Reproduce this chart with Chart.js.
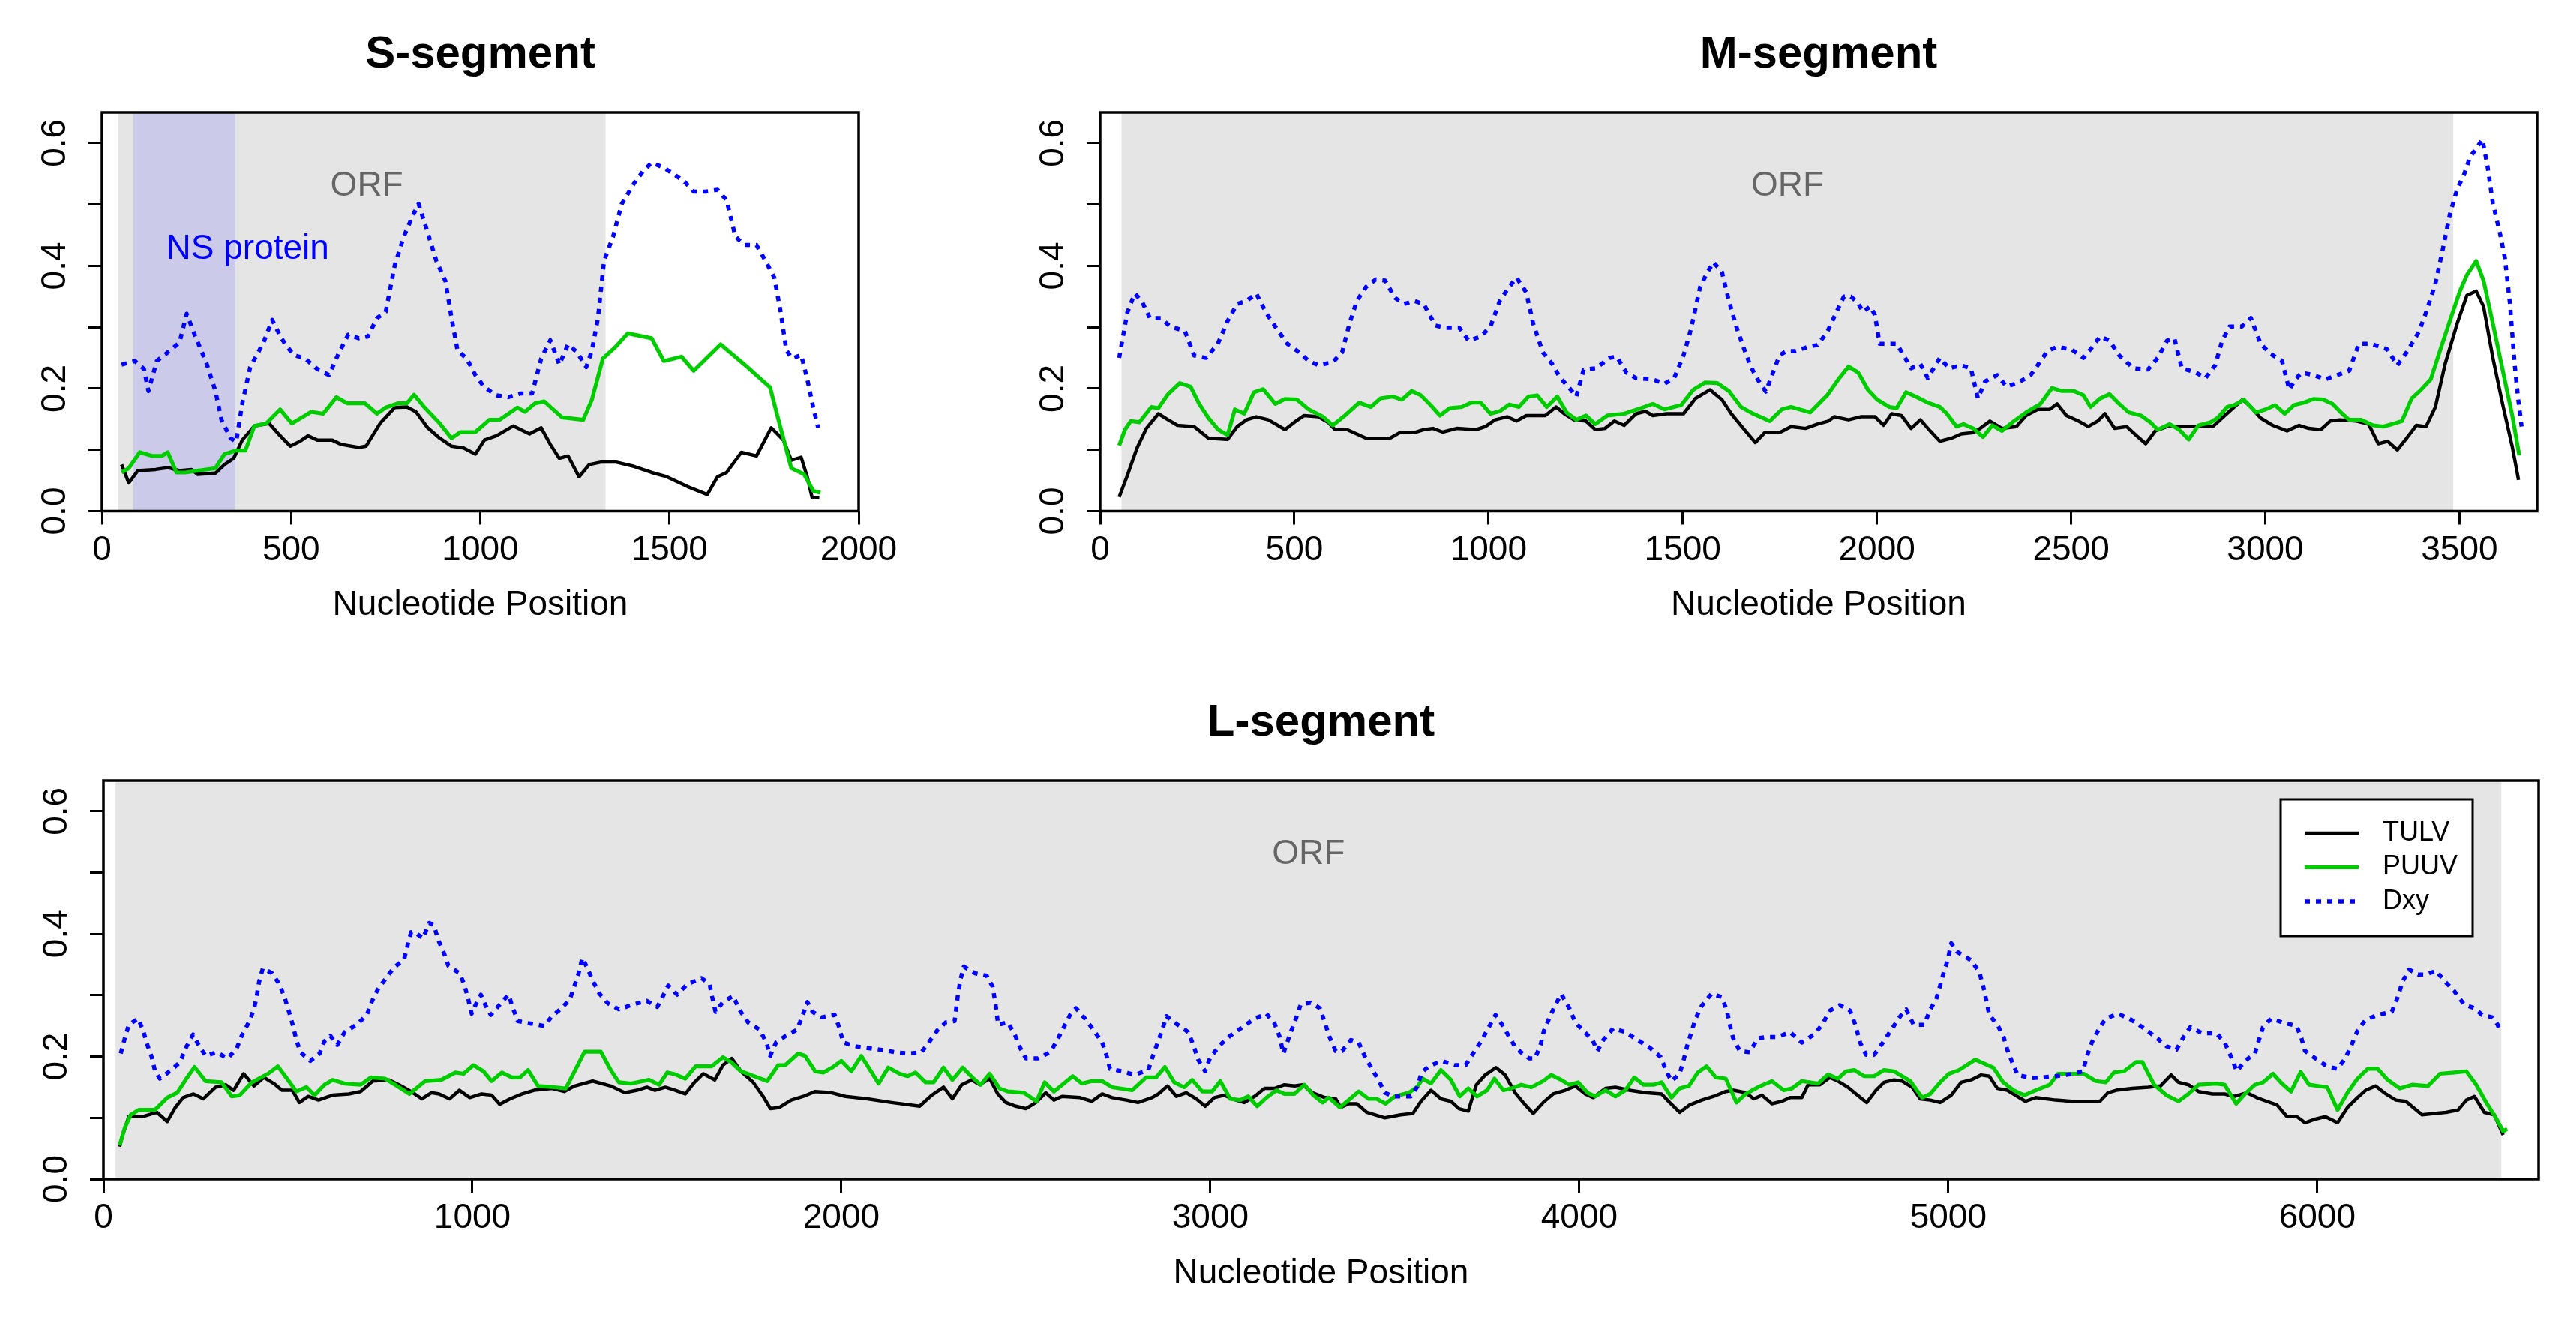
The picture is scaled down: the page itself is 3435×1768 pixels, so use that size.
<!DOCTYPE html>
<html>
<head>
<meta charset="utf-8">
<script src="https://cdn.jsdelivr.net/npm/chart.js@4.4.1/dist/chart.umd.min.js"></script>
<style>
html,body{margin:0;padding:0;background:#fff;}
body{width:3435px;height:1768px;position:relative;overflow:hidden;}
canvas{position:absolute;}
</style>
</head>
<body>
<canvas id="cS" width="1300" height="880" style="left:0px;top:0px;width:1300px;height:880px;"></canvas>
<canvas id="cM" width="2115" height="880" style="left:1320px;top:0px;width:2115px;height:880px;"></canvas>
<canvas id="cL" width="3435" height="888" style="left:0px;top:880px;width:3435px;height:888px;"></canvas>
<script>
// ---------------- DATA ----------------
const SERIES_NAMES = ['TULV', 'PUUV', 'Dxy'];
const Y_TICKS = [0, 0.1, 0.2, 0.3, 0.4, 0.5, 0.6];
const Y_LABELS = [0, 0.2, 0.4, 0.6];
const S_X_TICKS = [0, 500, 1000, 1500, 2000];
const M_X_TICKS = [0, 500, 1000, 1500, 2000, 2500, 3000, 3500];
const L_X_TICKS = [0, 1000, 2000, 3000, 4000, 5000, 6000];

const S_TULV = [[52,0.076],[71,0.046],[95,0.066],[142,0.068],[174,0.071],[205,0.066],[237,0.068],[253,0.060],[300,0.062],[324,0.076],[348,0.086],[371,0.116],[403,0.139],[442,0.143],[471,0.123],[498,0.106],[521,0.113],[545,0.123],[569,0.116],[608,0.116],[632,0.109],[679,0.104],[698,0.106],[735,0.143],[774,0.169],[806,0.170],[830,0.162],[861,0.136],[893,0.119],[924,0.106],[956,0.103],[987,0.093],[1011,0.116],[1043,0.123],[1087,0.139],[1130,0.126],[1161,0.136],[1185,0.109],[1209,0.086],[1232,0.090],[1261,0.056],[1288,0.076],[1319,0.080],[1359,0.080],[1406,0.073],[1453,0.063],[1493,0.056],[1548,0.040],[1600,0.027],[1627,0.056],[1651,0.063],[1690,0.096],[1730,0.090],[1769,0.136],[1801,0.116],[1822,0.083],[1848,0.088],[1864,0.056],[1877,0.022],[1896,0.022]];
const S_PUUV = [[52,0.063],[71,0.070],[100,0.096],[134,0.090],[158,0.090],[174,0.096],[197,0.063],[221,0.063],[253,0.066],[300,0.070],[324,0.093],[355,0.099],[379,0.099],[403,0.139],[434,0.143],[471,0.166],[502,0.143],[529,0.153],[553,0.162],[585,0.159],[620,0.186],[648,0.176],[695,0.176],[727,0.159],[750,0.169],[782,0.176],[806,0.176],[825,0.190],[853,0.169],[893,0.143],[924,0.119],[948,0.129],[987,0.129],[1024,0.149],[1051,0.149],[1098,0.169],[1118,0.162],[1145,0.176],[1169,0.179],[1216,0.153],[1272,0.149],[1295,0.182],[1324,0.249],[1359,0.269],[1390,0.290],[1453,0.282],[1485,0.245],[1532,0.252],[1564,0.229],[1635,0.272],[1706,0.235],[1766,0.202],[1785,0.156],[1822,0.070],[1856,0.060],[1880,0.033],[1899,0.030]];
const S_DXY = [[52,0.239],[87,0.245],[111,0.232],[123,0.196],[145,0.245],[174,0.259],[205,0.275],[224,0.322],[245,0.288],[276,0.242],[300,0.196],[316,0.149],[340,0.119],[355,0.113],[371,0.176],[392,0.235],[427,0.275],[450,0.312],[474,0.282],[506,0.255],[537,0.249],[569,0.232],[600,0.222],[624,0.255],[651,0.288],[679,0.282],[703,0.285],[727,0.315],[750,0.325],[774,0.401],[798,0.448],[821,0.481],[837,0.501],[861,0.454],[884,0.408],[908,0.375],[924,0.315],[940,0.262],[964,0.249],[987,0.222],[1011,0.202],[1043,0.189],[1074,0.186],[1106,0.192],[1137,0.192],[1161,0.249],[1185,0.279],[1209,0.239],[1232,0.272],[1256,0.259],[1280,0.235],[1295,0.262],[1311,0.315],[1327,0.408],[1351,0.448],[1374,0.501],[1406,0.534],[1430,0.554],[1453,0.568],[1485,0.560],[1517,0.547],[1540,0.537],[1564,0.521],[1596,0.521],[1627,0.524],[1651,0.507],[1674,0.448],[1698,0.434],[1730,0.434],[1754,0.408],[1777,0.381],[1793,0.328],[1809,0.262],[1825,0.249],[1848,0.255],[1864,0.216],[1880,0.169],[1893,0.136]];

const M_TULV = [[49,0.023],[70,0.058],[95,0.103],[119,0.135],[150,0.159],[175,0.149],[199,0.140],[242,0.138],[279,0.119],[328,0.117],[353,0.138],[377,0.149],[402,0.154],[433,0.149],[476,0.133],[500,0.145],[525,0.156],[562,0.154],[587,0.145],[605,0.133],[636,0.133],[685,0.119],[746,0.119],[771,0.128],[808,0.128],[833,0.133],[857,0.135],[882,0.129],[918,0.135],[968,0.133],[992,0.138],[1017,0.149],[1048,0.154],[1072,0.147],[1097,0.156],[1146,0.156],[1174,0.170],[1195,0.159],[1220,0.149],[1251,0.147],[1275,0.133],[1300,0.135],[1324,0.147],[1349,0.140],[1380,0.159],[1404,0.163],[1423,0.156],[1459,0.159],[1502,0.159],[1533,0.184],[1570,0.198],[1601,0.182],[1625,0.159],[1656,0.135],[1687,0.112],[1711,0.128],[1749,0.128],[1779,0.138],[1816,0.135],[1847,0.142],[1875,0.147],[1890,0.154],[1927,0.149],[1958,0.154],[1995,0.154],[2017,0.140],[2038,0.159],[2063,0.156],[2088,0.135],[2112,0.149],[2137,0.131],[2162,0.114],[2192,0.119],[2217,0.126],[2248,0.128],[2266,0.135],[2291,0.147],[2322,0.135],[2359,0.138],[2384,0.156],[2414,0.166],[2445,0.166],[2464,0.175],[2488,0.156],[2519,0.147],[2544,0.138],[2569,0.147],[2587,0.159],[2612,0.135],[2643,0.138],[2667,0.124],[2692,0.110],[2717,0.131],[2747,0.138],[2797,0.138],[2865,0.138],[2896,0.156],[2920,0.170],[2942,0.182],[2963,0.170],[2988,0.152],[3019,0.140],[3056,0.131],[3087,0.140],[3112,0.135],[3143,0.133],[3167,0.147],[3192,0.149],[3235,0.147],[3266,0.142],[3291,0.110],[3315,0.114],[3340,0.100],[3364,0.119],[3389,0.140],[3414,0.138],[3438,0.170],[3463,0.240],[3494,0.306],[3519,0.352],[3543,0.359],[3562,0.334],[3586,0.250],[3611,0.175],[3636,0.105],[3652,0.051]];
const M_PUUV = [[49,0.107],[64,0.133],[79,0.147],[101,0.145],[132,0.170],[150,0.168],[175,0.191],[205,0.209],[233,0.203],[255,0.175],[279,0.152],[304,0.133],[328,0.124],[347,0.166],[371,0.159],[396,0.194],[420,0.199],[451,0.175],[476,0.183],[507,0.182],[537,0.166],[574,0.154],[599,0.140],[630,0.156],[667,0.177],[697,0.170],[722,0.184],[753,0.187],[777,0.182],[802,0.196],[826,0.189],[851,0.173],[875,0.156],[900,0.168],[931,0.170],[955,0.177],[980,0.177],[1005,0.159],[1029,0.163],[1054,0.174],[1078,0.170],[1103,0.187],[1125,0.189],[1150,0.170],[1177,0.187],[1201,0.161],[1226,0.149],[1251,0.156],[1275,0.142],[1306,0.156],[1349,0.159],[1392,0.168],[1423,0.175],[1453,0.166],[1496,0.173],[1527,0.198],[1558,0.210],[1589,0.209],[1619,0.196],[1650,0.170],[1681,0.159],[1724,0.147],[1755,0.166],[1779,0.170],[1828,0.161],[1872,0.189],[1903,0.217],[1927,0.236],[1952,0.226],[1977,0.198],[2001,0.182],[2032,0.170],[2051,0.168],[2075,0.194],[2100,0.187],[2131,0.177],[2162,0.170],[2180,0.159],[2205,0.138],[2223,0.142],[2248,0.135],[2273,0.121],[2297,0.140],[2322,0.131],[2353,0.147],[2384,0.161],[2421,0.175],[2451,0.201],[2476,0.196],[2507,0.196],[2532,0.189],[2550,0.170],[2575,0.184],[2599,0.191],[2624,0.175],[2649,0.161],[2680,0.156],[2704,0.145],[2723,0.133],[2754,0.142],[2778,0.133],[2803,0.117],[2828,0.140],[2859,0.145],[2877,0.152],[2902,0.170],[2920,0.173],[2945,0.182],[2976,0.161],[3001,0.166],[3025,0.173],[3050,0.159],[3074,0.173],[3099,0.177],[3124,0.183],[3149,0.182],[3173,0.175],[3198,0.159],[3216,0.149],[3247,0.149],[3278,0.140],[3303,0.138],[3327,0.142],[3352,0.147],[3377,0.184],[3401,0.198],[3426,0.215],[3451,0.264],[3475,0.310],[3500,0.357],[3519,0.385],[3543,0.408],[3562,0.376],[3586,0.306],[3611,0.231],[3636,0.156],[3654,0.091]];
const M_DXY = [[49,0.250],[70,0.324],[89,0.355],[107,0.343],[128,0.315],[156,0.315],[181,0.301],[218,0.294],[242,0.254],[273,0.250],[303,0.273],[328,0.310],[353,0.338],[377,0.343],[402,0.355],[427,0.324],[451,0.301],[482,0.273],[513,0.259],[537,0.245],[562,0.238],[599,0.243],[623,0.259],[642,0.306],[661,0.343],[685,0.366],[710,0.378],[734,0.376],[759,0.348],[783,0.338],[808,0.343],[833,0.338],[863,0.303],[888,0.299],[925,0.299],[949,0.278],[980,0.285],[1005,0.301],[1029,0.343],[1051,0.364],[1072,0.381],[1097,0.357],[1115,0.306],[1140,0.259],[1164,0.240],[1183,0.219],[1208,0.201],[1226,0.187],[1245,0.231],[1276,0.233],[1312,0.250],[1330,0.252],[1355,0.226],[1380,0.217],[1423,0.215],[1453,0.208],[1478,0.217],[1502,0.254],[1521,0.296],[1545,0.366],[1564,0.390],[1579,0.406],[1601,0.390],[1619,0.343],[1638,0.301],[1656,0.268],[1675,0.236],[1693,0.215],[1714,0.195],[1730,0.222],[1749,0.254],[1767,0.261],[1791,0.261],[1822,0.268],[1847,0.271],[1872,0.292],[1896,0.325],[1915,0.350],[1933,0.350],[1952,0.339],[1964,0.325],[1983,0.334],[1995,0.320],[2007,0.273],[2026,0.273],[2051,0.273],[2069,0.254],[2088,0.233],[2112,0.240],[2131,0.217],[2162,0.250],[2186,0.233],[2217,0.238],[2242,0.233],[2260,0.184],[2279,0.212],[2310,0.222],[2334,0.203],[2365,0.210],[2396,0.222],[2414,0.238],[2439,0.261],[2464,0.268],[2501,0.264],[2532,0.250],[2550,0.264],[2575,0.285],[2599,0.278],[2624,0.254],[2661,0.233],[2698,0.231],[2723,0.250],[2747,0.278],[2766,0.282],[2785,0.233],[2822,0.226],[2846,0.217],[2871,0.238],[2889,0.278],[2908,0.301],[2939,0.301],[2963,0.315],[2988,0.273],[3013,0.257],[3043,0.245],[3062,0.198],[3074,0.212],[3093,0.226],[3124,0.222],[3155,0.215],[3185,0.222],[3216,0.229],[3241,0.273],[3272,0.273],[3314,0.264],[3340,0.238],[3364,0.259],[3395,0.292],[3414,0.324],[3438,0.371],[3457,0.427],[3475,0.483],[3494,0.525],[3512,0.549],[3527,0.577],[3543,0.591],[3559,0.606],[3572,0.563],[3586,0.502],[3605,0.451],[3617,0.413],[3630,0.338],[3642,0.240],[3651,0.184],[3660,0.138]];

const L_TULV = [[44,0.053],[52,0.072],[69,0.102],[107,0.102],[145,0.109],[173,0.094],[195,0.117],[216,0.133],[244,0.139],[271,0.131],[304,0.150],[331,0.154],[353,0.145],[380,0.172],[408,0.152],[435,0.166],[462,0.156],[484,0.145],[512,0.145],[531,0.125],[555,0.135],[583,0.129],[621,0.137],[665,0.139],[697,0.143],[730,0.160],[774,0.162],[807,0.152],[839,0.141],[863,0.131],[889,0.141],[910,0.139],[938,0.131],[965,0.145],[993,0.133],[1025,0.139],[1052,0.137],[1074,0.122],[1102,0.131],[1135,0.139],[1167,0.145],[1216,0.148],[1249,0.143],[1277,0.152],[1326,0.160],[1375,0.152],[1413,0.141],[1446,0.145],[1473,0.150],[1495,0.145],[1523,0.150],[1550,0.145],[1577,0.139],[1602,0.158],[1626,0.172],[1657,0.162],[1679,0.186],[1703,0.197],[1728,0.176],[1761,0.158],[1788,0.135],[1808,0.115],[1832,0.117],[1864,0.129],[1897,0.135],[1929,0.143],[1973,0.141],[2011,0.135],[2071,0.131],[2136,0.125],[2212,0.119],[2245,0.137],[2277,0.150],[2301,0.131],[2326,0.154],[2353,0.162],[2375,0.154],[2402,0.164],[2424,0.139],[2446,0.125],[2473,0.119],[2500,0.115],[2527,0.125],[2554,0.141],[2576,0.129],[2598,0.135],[2647,0.133],[2679,0.127],[2707,0.139],[2734,0.133],[2772,0.129],[2804,0.125],[2842,0.133],[2859,0.139],[2884,0.152],[2908,0.135],[2935,0.141],[2962,0.131],[2986,0.119],[3011,0.133],[3038,0.137],[3060,0.131],[3092,0.125],[3120,0.135],[3147,0.148],[3174,0.148],[3201,0.154],[3228,0.152],[3250,0.154],[3277,0.141],[3310,0.133],[3340,0.131],[3353,0.117],[3375,0.123],[3397,0.123],[3424,0.109],[3473,0.100],[3516,0.105],[3549,0.107],[3571,0.127],[3598,0.145],[3625,0.131],[3652,0.127],[3674,0.115],[3699,0.111],[3721,0.154],[3745,0.170],[3774,0.182],[3799,0.170],[3826,0.141],[3848,0.125],[3875,0.107],[3902,0.125],[3929,0.139],[3962,0.145],[3989,0.152],[4016,0.139],[4038,0.133],[4071,0.148],[4098,0.150],[4136,0.145],[4179,0.141],[4223,0.139],[4245,0.125],[4272,0.109],[4299,0.121],[4332,0.129],[4364,0.135],[4397,0.143],[4418,0.145],[4451,0.141],[4473,0.131],[4495,0.137],[4522,0.123],[4549,0.127],[4571,0.133],[4603,0.133],[4620,0.154],[4652,0.154],[4679,0.166],[4701,0.160],[4728,0.150],[4750,0.139],[4779,0.125],[4804,0.145],[4826,0.158],[4853,0.162],[4875,0.160],[4902,0.150],[4924,0.131],[4951,0.129],[4978,0.125],[5008,0.137],[5035,0.158],[5062,0.162],[5089,0.170],[5111,0.168],[5133,0.148],[5160,0.145],[5209,0.127],[5237,0.133],[5291,0.129],[5335,0.127],[5367,0.127],[5411,0.127],[5433,0.141],[5455,0.145],[5498,0.148],[5542,0.150],[5575,0.152],[5604,0.170],[5624,0.158],[5651,0.154],[5678,0.143],[5716,0.139],[5749,0.139],[5776,0.135],[5809,0.141],[5836,0.133],[5863,0.127],[5891,0.121],[5918,0.102],[5945,0.102],[5967,0.092],[5995,0.098],[6022,0.102],[6055,0.092],[6082,0.117],[6109,0.133],[6131,0.145],[6158,0.152],[6186,0.139],[6213,0.129],[6240,0.127],[6284,0.105],[6317,0.107],[6349,0.109],[6382,0.113],[6404,0.129],[6426,0.135],[6453,0.109],[6480,0.105],[6491,0.090],[6504,0.072]];
const L_PUUV = [[44,0.055],[58,0.084],[74,0.105],[96,0.113],[140,0.113],[173,0.133],[200,0.141],[227,0.166],[247,0.183],[277,0.160],[320,0.158],[348,0.135],[370,0.137],[402,0.158],[446,0.172],[473,0.184],[500,0.162],[523,0.143],[550,0.150],[572,0.137],[599,0.154],[621,0.162],[654,0.156],[697,0.154],[725,0.166],[763,0.164],[796,0.152],[829,0.139],[872,0.160],[916,0.162],[954,0.174],[976,0.172],[1003,0.186],[1030,0.176],[1052,0.160],[1080,0.174],[1107,0.166],[1129,0.166],[1151,0.178],[1178,0.152],[1222,0.150],[1253,0.148],[1277,0.176],[1304,0.208],[1348,0.208],[1375,0.178],[1397,0.158],[1430,0.156],[1479,0.162],[1506,0.154],[1528,0.174],[1550,0.171],[1577,0.164],[1605,0.184],[1648,0.184],[1679,0.199],[1701,0.191],[1728,0.176],[1755,0.170],[1799,0.160],[1829,0.186],[1848,0.186],[1883,0.205],[1902,0.201],[1929,0.176],[1951,0.174],[1975,0.182],[2000,0.193],[2027,0.176],[2054,0.201],[2076,0.180],[2101,0.156],[2127,0.182],[2158,0.172],[2179,0.168],[2201,0.174],[2228,0.158],[2250,0.158],[2277,0.182],[2301,0.162],[2329,0.182],[2355,0.166],[2378,0.154],[2402,0.172],[2429,0.148],[2451,0.143],[2495,0.141],[2529,0.127],[2551,0.158],[2576,0.143],[2603,0.156],[2627,0.168],[2652,0.156],[2679,0.160],[2707,0.160],[2734,0.150],[2788,0.145],[2826,0.166],[2853,0.166],[2877,0.183],[2902,0.158],[2929,0.150],[2951,0.162],[2978,0.143],[3005,0.143],[3027,0.160],[3054,0.131],[3081,0.129],[3103,0.135],[3127,0.119],[3152,0.133],[3179,0.145],[3201,0.139],[3228,0.139],[3255,0.154],[3279,0.137],[3304,0.125],[3321,0.133],[3340,0.123],[3351,0.117],[3375,0.129],[3402,0.143],[3429,0.131],[3451,0.131],[3475,0.123],[3500,0.135],[3538,0.141],[3560,0.150],[3576,0.164],[3598,0.156],[3625,0.178],[3652,0.162],[3676,0.135],[3699,0.148],[3723,0.135],[3750,0.145],[3770,0.164],[3794,0.145],[3815,0.148],[3843,0.154],[3870,0.150],[3902,0.160],[3924,0.170],[3951,0.162],[3973,0.154],[3997,0.158],[4022,0.141],[4043,0.135],[4071,0.145],[4098,0.135],[4125,0.145],[4149,0.166],[4174,0.154],[4201,0.154],[4223,0.158],[4250,0.133],[4272,0.148],[4297,0.152],[4321,0.174],[4345,0.184],[4370,0.166],[4397,0.164],[4426,0.125],[4451,0.139],[4484,0.150],[4522,0.160],[4554,0.145],[4576,0.148],[4603,0.160],[4647,0.156],[4674,0.171],[4701,0.164],[4723,0.176],[4745,0.178],[4772,0.168],[4799,0.168],[4826,0.178],[4853,0.176],[4897,0.160],[4929,0.133],[4951,0.139],[4978,0.158],[5002,0.172],[5029,0.178],[5073,0.195],[5122,0.182],[5149,0.158],[5177,0.145],[5206,0.137],[5237,0.145],[5275,0.154],[5297,0.172],[5367,0.172],[5400,0.160],[5427,0.158],[5449,0.174],[5476,0.176],[5509,0.191],[5526,0.191],[5558,0.154],[5591,0.137],[5624,0.127],[5651,0.139],[5678,0.154],[5727,0.156],[5749,0.154],[5780,0.123],[5804,0.139],[5831,0.154],[5853,0.158],[5880,0.172],[5904,0.156],[5929,0.143],[5955,0.175],[5978,0.154],[6027,0.150],[6055,0.113],[6082,0.141],[6109,0.164],[6137,0.180],[6164,0.180],[6191,0.162],[6224,0.148],[6257,0.154],[6300,0.152],[6333,0.172],[6371,0.174],[6404,0.176],[6431,0.154],[6458,0.125],[6486,0.098],[6504,0.078],[6515,0.082]];
const L_DXY = [[47,0.205],[58,0.230],[69,0.252],[94,0.262],[107,0.244],[118,0.221],[131,0.199],[140,0.176],[153,0.164],[184,0.178],[208,0.191],[224,0.215],[243,0.236],[258,0.219],[277,0.201],[307,0.207],[337,0.197],[361,0.213],[375,0.234],[394,0.256],[408,0.277],[415,0.297],[422,0.322],[432,0.344],[457,0.336],[477,0.318],[492,0.295],[503,0.273],[514,0.250],[523,0.227],[534,0.207],[561,0.193],[586,0.205],[599,0.225],[615,0.234],[634,0.219],[654,0.240],[686,0.252],[714,0.268],[727,0.289],[743,0.309],[766,0.328],[787,0.345],[815,0.359],[825,0.383],[834,0.403],[850,0.400],[866,0.393],[883,0.418],[896,0.414],[907,0.391],[923,0.369],[935,0.348],[965,0.336],[978,0.318],[989,0.293],[998,0.270],[1009,0.285],[1023,0.301],[1036,0.283],[1050,0.268],[1080,0.289],[1098,0.301],[1110,0.279],[1123,0.258],[1157,0.254],[1195,0.250],[1216,0.266],[1238,0.277],[1264,0.293],[1277,0.316],[1288,0.336],[1298,0.361],[1312,0.344],[1326,0.324],[1344,0.303],[1367,0.287],[1397,0.277],[1435,0.285],[1473,0.291],[1501,0.281],[1515,0.297],[1531,0.316],[1555,0.301],[1582,0.318],[1621,0.328],[1643,0.318],[1650,0.297],[1659,0.273],[1679,0.289],[1707,0.299],[1723,0.277],[1747,0.256],[1778,0.244],[1797,0.223],[1807,0.201],[1823,0.223],[1850,0.234],[1880,0.244],[1893,0.264],[1908,0.289],[1922,0.273],[1946,0.264],[1982,0.268],[1995,0.246],[2005,0.223],[2036,0.217],[2071,0.214],[2109,0.211],[2147,0.207],[2185,0.205],[2217,0.207],[2237,0.223],[2259,0.242],[2283,0.256],[2307,0.258],[2315,0.297],[2323,0.326],[2332,0.347],[2362,0.336],[2394,0.332],[2410,0.314],[2418,0.285],[2425,0.252],[2451,0.256],[2470,0.236],[2484,0.215],[2500,0.197],[2533,0.197],[2565,0.207],[2582,0.223],[2603,0.248],[2620,0.268],[2636,0.279],[2663,0.260],[2685,0.242],[2707,0.223],[2720,0.199],[2728,0.180],[2761,0.176],[2794,0.170],[2832,0.178],[2842,0.197],[2855,0.219],[2870,0.244],[2881,0.266],[2897,0.258],[2921,0.248],[2940,0.240],[2954,0.219],[2967,0.195],[2986,0.176],[3000,0.199],[3027,0.219],[3054,0.234],[3087,0.248],[3120,0.262],[3152,0.270],[3174,0.254],[3188,0.232],[3198,0.205],[3218,0.240],[3232,0.262],[3245,0.285],[3272,0.288],[3297,0.279],[3310,0.256],[3323,0.232],[3340,0.209],[3357,0.209],[3381,0.227],[3402,0.223],[3418,0.201],[3438,0.180],[3457,0.160],[3473,0.141],[3495,0.135],[3522,0.135],[3543,0.135],[3560,0.150],[3573,0.174],[3592,0.184],[3627,0.193],[3663,0.186],[3692,0.186],[3712,0.205],[3734,0.225],[3753,0.246],[3773,0.268],[3791,0.252],[3810,0.232],[3829,0.213],[3864,0.197],[3880,0.197],[3895,0.219],[3904,0.242],[3918,0.262],[3934,0.283],[3951,0.302],[3973,0.279],[3989,0.256],[4011,0.242],[4036,0.227],[4049,0.209],[4065,0.227],[4092,0.246],[4125,0.240],[4158,0.227],[4190,0.215],[4221,0.199],[4236,0.176],[4250,0.160],[4272,0.172],[4283,0.195],[4293,0.219],[4304,0.240],[4315,0.262],[4332,0.283],[4359,0.303],[4386,0.297],[4400,0.275],[4408,0.252],[4417,0.230],[4435,0.209],[4462,0.207],[4484,0.230],[4508,0.232],[4538,0.232],[4571,0.240],[4603,0.223],[4636,0.236],[4658,0.252],[4679,0.275],[4706,0.284],[4734,0.275],[4748,0.252],[4761,0.223],[4777,0.203],[4799,0.203],[4823,0.223],[4848,0.246],[4870,0.266],[4886,0.277],[4906,0.252],[4935,0.252],[4951,0.277],[4967,0.293],[4977,0.314],[4988,0.338],[4999,0.359],[5008,0.385],[5024,0.371],[5046,0.363],[5062,0.357],[5084,0.338],[5095,0.314],[5104,0.289],[5111,0.268],[5133,0.252],[5150,0.232],[5160,0.211],[5173,0.191],[5188,0.170],[5226,0.165],[5252,0.166],[5291,0.168],[5329,0.171],[5365,0.176],[5376,0.201],[5389,0.223],[5409,0.246],[5427,0.262],[5460,0.270],[5496,0.260],[5526,0.248],[5562,0.232],[5591,0.217],[5618,0.211],[5638,0.232],[5656,0.248],[5689,0.238],[5727,0.238],[5749,0.223],[5767,0.199],[5782,0.176],[5804,0.193],[5831,0.205],[5842,0.227],[5853,0.248],[5875,0.262],[5904,0.256],[5944,0.250],[5957,0.230],[5967,0.209],[5995,0.197],[6027,0.184],[6055,0.180],[6076,0.197],[6093,0.219],[6109,0.242],[6131,0.260],[6164,0.268],[6202,0.273],[6218,0.297],[6231,0.322],[6249,0.342],[6273,0.334],[6295,0.334],[6322,0.340],[6347,0.322],[6371,0.307],[6398,0.285],[6426,0.279],[6447,0.268],[6475,0.264],[6489,0.252],[6496,0.240]];

// ---------------- STYLE / LAYOUT ----------------
const FONT = '"Liberation Sans", Arial, Helvetica, sans-serif';
const COLORS = { TULV: '#000000', PUUV: '#00CD00', Dxy: '#0000FF' };
Chart.defaults.font.family = FONT;

const toXY = arr => arr.map(p => ({ x: p[0], y: p[1] }));

const decor = {
  id: 'decor',
  beforeDatasetsDraw(chart, args, o) {
    const { ctx, chartArea: a, scales: { x, y } } = chart;
    ctx.save();
    ctx.beginPath(); ctx.rect(a.left, a.top, a.width, a.height); ctx.clip();
    const x0 = x.getPixelForValue(o.orf[0]), x1 = x.getPixelForValue(o.orf[1]);
    ctx.fillStyle = '#E5E5E5';
    ctx.fillRect(x0, a.top, x1 - x0, a.height);
    if (o.ns) {
      const n0 = x.getPixelForValue(o.ns[0]), n1 = x.getPixelForValue(o.ns[1]);
      ctx.fillStyle = '#CBCBE9';
      ctx.fillRect(n0, a.top, n1 - n0, a.height);
    }
    ctx.restore();
    ctx.save();
    ctx.font = '46px ' + FONT;
    ctx.textAlign = 'center';
    ctx.textBaseline = 'middle';
    ctx.fillStyle = '#666666';
    ctx.fillText('ORF', x.getPixelForValue(o.orfLabel[0]), y.getPixelForValue(o.orfLabel[1]));
    if (o.nsLabel) {
      ctx.fillStyle = '#0000FF';
      ctx.fillText('NS protein', x.getPixelForValue(o.nsLabel[0]), y.getPixelForValue(o.nsLabel[1]));
    }
    ctx.restore();
  },
  afterDraw(chart, args, o) {
    const { ctx, chartArea: a, scales: { y } } = chart;
    ctx.save();
    // box
    ctx.strokeStyle = '#000';
    ctx.lineWidth = 3.5;
    ctx.strokeRect(a.left, a.top, a.width, a.height);
    // title
    ctx.fillStyle = '#000';
    ctx.font = 'bold 60px ' + FONT;
    ctx.textAlign = 'center';
    ctx.textBaseline = 'alphabetic';
    ctx.fillText(o.title, (a.left + a.right) / 2, a.top - 60);
    // rotated y labels
    ctx.font = '46px ' + FONT;
    ctx.textBaseline = 'middle';
    Y_LABELS.forEach(v => {
      ctx.save();
      ctx.translate(a.left - 62, y.getPixelForValue(v));
      ctx.rotate(-Math.PI / 2);
      ctx.fillText(v.toFixed(1), 0, 0);
      ctx.restore();
    });
    // legend
    if (o.legend) {
      const L = a.right - 344, T = a.top + 25, W = 256, H = 182;
      ctx.fillStyle = '#fff';
      ctx.fillRect(L, T, W, H);
      ctx.lineWidth = 3;
      ctx.strokeStyle = '#000';
      ctx.strokeRect(L, T, W, H);
      ctx.font = '36px ' + FONT;
      ctx.textAlign = 'left';
      ctx.textBaseline = 'middle';
      chart.data.datasets.forEach((ds, i) => {
        const cy = T + 45 + i * 45.5;
        ctx.save();
        ctx.strokeStyle = ds.borderColor;
        ctx.lineWidth = ds.borderWidth;
        ctx.setLineDash(ds.borderDash || []);
        ctx.beginPath();
        ctx.moveTo(L + 32, cy); ctx.lineTo(L + 104, cy);
        ctx.stroke();
        ctx.restore();
        ctx.fillStyle = '#000';
        ctx.fillText(ds.label, L + 136, cy);
      });
    }
    ctx.restore();
  }
};

function makeChart(id, series, xMax, xTicks, pad, decorOpts) {
  const datasets = [
    { label: SERIES_NAMES[0], data: toXY(series[0]), borderColor: COLORS.TULV, borderWidth: 4.5, order: 3 },
    { label: SERIES_NAMES[1], data: toXY(series[1]), borderColor: COLORS.PUUV, borderWidth: 5.2, order: 2 },
    { label: SERIES_NAMES[2], data: toXY(series[2]), borderColor: COLORS.Dxy, borderWidth: 5.5, borderDash: [7, 8], order: 1 }
  ];
  return new Chart(document.getElementById(id), {
    type: 'line',
    data: { datasets },
    plugins: [decor],
    options: {
      responsive: false,
      animation: false,
      devicePixelRatio: 1,
      parsing: false,
      elements: { point: { radius: 0 }, line: { tension: 0, borderCapStyle: 'butt', borderJoinStyle: 'round', fill: false } },
      layout: { padding: pad },
      plugins: { legend: { display: false }, title: { display: false }, tooltip: { enabled: false }, decor: decorOpts },
      scales: {
        x: {
          type: 'linear', min: 0, max: xMax,
          afterBuildTicks: s => { s.ticks = xTicks.map(v => ({ value: v })); },
          afterFit: s => { s.height = 149; },
          ticks: { font: { size: 46, lineHeight: 1.2 }, color: '#000', padding: 7, maxRotation: 0, autoSkip: false, callback: v => String(v) },
          grid: { drawOnChartArea: false, drawTicks: true, tickLength: 18, color: '#000', lineWidth: 3 },
          border: { display: false },
          title: { display: true, text: 'Nucleotide Position', color: '#000', font: { size: 46, lineHeight: 1 }, padding: 0 }
        },
        y: {
          type: 'linear', min: 0, max: 0.65,
          afterBuildTicks: s => { s.ticks = Y_TICKS.map(v => ({ value: v })); },
          afterFit: s => { s.width = 80; },
          ticks: { display: false },
          grid: { drawOnChartArea: false, drawTicks: true, tickLength: 18, color: '#000', lineWidth: 3 },
          border: { display: false }
        }
      }
    }
  });
}

// S: chart area 136..1145 x 150..681.5 within 1300x880 canvas
makeChart('cS', [S_TULV, S_PUUV, S_DXY], 2000, S_X_TICKS,
  { left: 56, top: 150, right: 155, bottom: 49.5 },
  { title: 'S-segment', orf: [43, 1331], ns: [83, 353], orfLabel: [700, 0.53], nsLabel: [385, 0.427], legend: false });
// M: chart area 1467..3383 (canvas left 1320)
makeChart('cM', [M_TULV, M_PUUV, M_DXY], 3700, M_X_TICKS,
  { left: 67, top: 150, right: 52, bottom: 49.5 },
  { title: 'M-segment', orf: [55, 3484], orfLabel: [1770, 0.53], legend: false });
// L: chart area 138..3385 x 1041..1572 (canvas top 880)
makeChart('cL', [L_TULV, L_PUUV, L_DXY], 6600, L_X_TICKS,
  { left: 58, top: 161, right: 50, bottom: 47 },
  { title: 'L-segment', orf: [33, 6499], orfLabel: [3266, 0.53], legend: true });
</script>
</body>
</html>
